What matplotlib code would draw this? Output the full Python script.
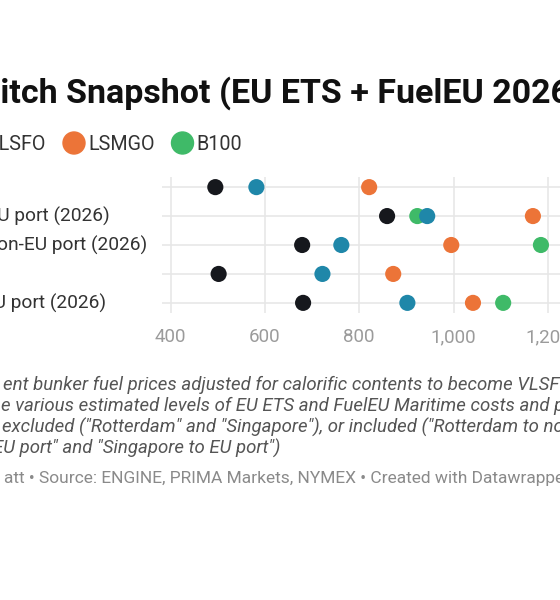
import matplotlib.pyplot as plt
from matplotlib.ticker import FuncFormatter

plt.rcParams['font.family'] = ['Roboto', 'DejaVu Sans']

# dados (USD/t, VLSFO-equivalente)
rows = ["Rotterdam",
        "Rotterdam to EU port (2026)",
        "Rotterdam to non-EU port (2026)",
        "Singapore",
        "Singapore to EU port (2026)"]
fuels = ["HSFO", "VLSFO", "LSMGO", "B100"]
hsfo = [495, 859, 679, 502, 681]
vlsfo = [582, 944, 762, 722, 902]
lsmgo = [821, 1168, 995, 872, 1041]
b100 = [1290, 923, 1185, 1275, 1105]
xticks = [400, 600, 800, 1000, 1200, 1400]

colors = {"HSFO": "#16181d", "VLSFO": "#1f87a9", "LSMGO": "#ec7438", "B100": "#3fba68"}
values = {"HSFO": hsfo, "VLSFO": vlsfo, "LSMGO": lsmgo, "B100": b100}

W, H = 560, 600
fig = plt.figure(figsize=(W / 100, H / 100), dpi=100)
renderer = fig.canvas.get_renderer()


def fx(px):
    return px / W


def fy(py):
    return 1 - py / H


def text_w(s, **kw):
    t = fig.text(0, 0, s, **kw)
    w = t.get_window_extent(renderer).width
    t.remove()
    return w


def cropped(prefix, rest, x_rest, y, **kw):
    # coloca o texto inteiro de modo que "rest" comece em x_rest (px)
    x0 = x_rest - text_w(prefix, **kw)
    fig.text(fx(x0), fy(y), prefix + rest, va='baseline', ha='left', **kw)


# titulo
title_kw = dict(fontsize=24.5, fontweight='bold', color='#111111')
cropped("Fuel Sw", "itch Snapshot (EU ETS + FuelEU 2026)", 0.5, 103, **title_kw)

# legenda
leg_kw = dict(fontsize=14.2, color='#333333')
c2t, t2c = 14, 28
items = []
x = 0
for name in fuels:
    w = text_w(name, **leg_kw)
    items.append((name, x, x + c2t, w))
    x = x + c2t + w + t2c
shift = 46 - (items[1][2] + items[1][3])
for name, cx, tx, w in items:
    fig.patches.append(plt.Circle((cx + shift, H - 143), 11, transform=None,
                                  color=colors[name], figure=fig))
    fig.text(fx(tx + shift), fy(150), name, va='baseline', ha='left', **leg_kw)

# grafico
x_left, x_right = 382, 1400
px_per = (548 - 170.5) / 800
ax_left = 170.5 - (400 - x_left) * px_per
ax_w = (x_right - x_left) * px_per
ax = fig.add_axes([fx(ax_left), fy(313), ax_w / W, (313 - 177) / H])
ax.set_xlim(x_left, x_right)
ax.set_ylim(4.35, -0.35)

for name in ["B100", "LSMGO", "VLSFO", "HSFO"]:
    ax.scatter(values[name], range(len(rows)), s=135, color=colors[name],
               edgecolor='none', zorder=3)

ax.set_xticks(xticks)
ax.set_yticks(range(len(rows)))
ax.set_yticklabels([])
ax.xaxis.set_major_formatter(FuncFormatter(lambda v, p: f"{v:,.0f}"))
ax.tick_params(axis='both', length=0)
ax.tick_params(axis='x', labelsize=13.5, labelcolor='#9b9b9b', pad=11)
ax.grid(True, color='#e6e6e6', linewidth=1.1)
ax.set_axisbelow(True)
for s in ax.spines.values():
    s.set_visible(False)

# rotulos das linhas (alinhados a esquerda)
lab_kw = dict(fontsize=13.75, color='#333333')
lab_x = 147 - text_w(rows[2], **lab_kw)
row_y = [187.3, 216.7, 245, 273.3, 303.3]
for lab, yy in zip(rows, row_y):
    fig.text(fx(lab_x), fy(yy + 5.5), lab, va='baseline', ha='left', **lab_kw)

# notas
note_kw = dict(fontsize=13.4, color='#555555', style='italic')
fig.text(fx(3), fy(389.5), "ent bunker fuel prices adjusted for calorific contents to become VLSFO-equivalent,",
         va='baseline', ha='left', **note_kw)
fig.text(fx(1), fy(411), "e various estimated levels of EU ETS and FuelEU Maritime costs and penalties",
         va='baseline', ha='left', **note_kw)
fig.text(fx(2), fy(432.5), "excluded (\"Rotterdam\" and \"Singapore\"), or included (\"Rotterdam to non-",
         va='baseline', ha='left', **note_kw)
cropped("E", "U port\" and \"Singapore to EU port\")", 3, 454, **note_kw)

foot_kw = dict(fontsize=12.5, color='#8a8a8a')
fig.text(fx(4), fy(483), "att \u2022 Source: ENGINE, PRIMA Markets, NYMEX \u2022 Created with Datawrapper",
         va='baseline', ha='left', **foot_kw)

plt.savefig('out.png', dpi=100)
